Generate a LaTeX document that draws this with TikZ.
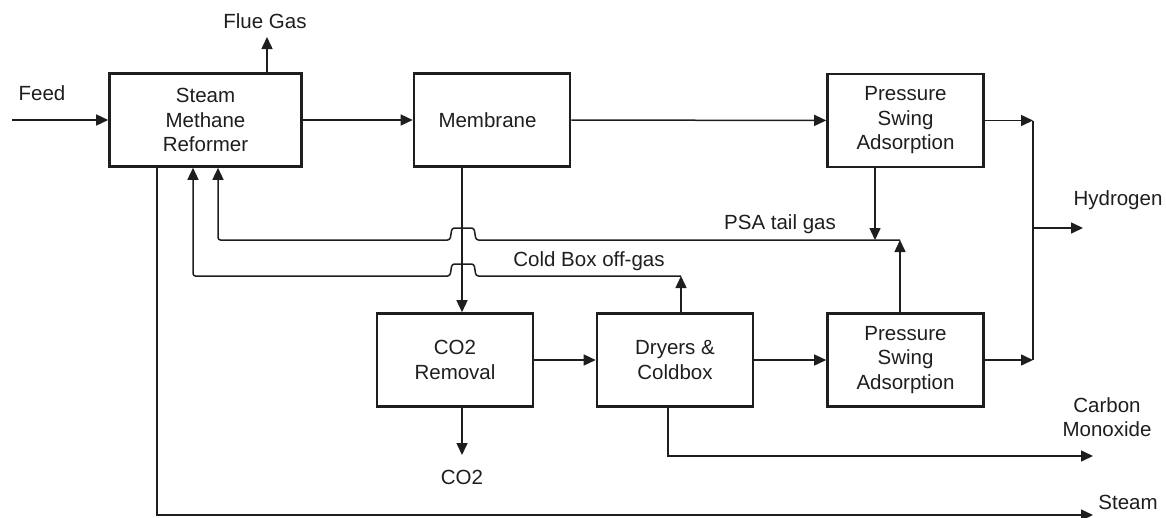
\documentclass[tikz,border=0pt]{standalone}
\usepackage{fontspec}
\setmainfont{Liberation Sans}
\usetikzlibrary{arrows.meta,positioning,calc}
\definecolor{lineink}{RGB}{30, 30, 30}

\begin{document}
\begin{tikzpicture}[x=1pt, y=-1pt,
    every node/.style={font=\fontsize{20.5}{24.5}\selectfont, text=lineink},
    unit/.style={draw=lineink, line width=2.6pt, minimum width=#1, minimum height=93pt, inner sep=0pt, align=center},
    unit/.default=156pt,
    flow/.style={draw=lineink, line width=1.5pt, -{Triangle[length=12pt,width=11pt]}},
    plain/.style={draw=lineink, line width=1.5pt}]
    \useasboundingbox (0,0) rectangle (1166,517);

    % Process Units
    \node[unit=192pt] (smr) at (205.5,120) {Steam\\Methane\\Reformer};
    \node[unit] (membrane) at (492,120) {Membrane\hspace{9pt}};
    \node[unit] (psaA) at (905.5,120.5) {Pressure\\Swing\\Adsorption};
    \node[unit] (co2rem) at (455,360) {CO2\\Removal};
    \node[unit] (dryers) at (675,360) {Dryers \&\\Coldbox};
    \node[unit] (psaB) at (905.5,360) {Pressure\\Swing\\Adsorption};

    % Stream Labels
    \node (feedlbl) at (42,93) {Feed};
    \node (fluelbl) at (265,21) {Flue Gas};
    \node (h2lbl) at (1118,200) {Hydrogen};
    \node (tailbl) at (780,224) {PSA tail gas};
    \node (coldlbl) at (589,261) {Cold Box off-gas};
    \node (co2lbl) at (462,477) {CO2};
    \node[align=center] (colbl) at (1107,417) {Carbon\\Monoxide};
    \node (steamlbl) at (1128,502) {Steam};

    % Helper Points
    \coordinate (feedin) at (12,120);
    \coordinate (flueout) at (267,37);
    \coordinate (hcol) at (1033,228);
    \coordinate (h2out) at (1083,228);
    \coordinate (dropx) at (462,0);
    \coordinate (co2out) at (462,455);
    \coordinate (cobend) at (668,456);
    \coordinate (coout) at (1093,456);
    \coordinate (stbend) at (157,515);
    \coordinate (stout) at (1093,515);
    \coordinate (tailjoin) at (875,240);
    \coordinate (tailend) at (900,240);
    \coordinate (tailbend) at (218,240);
    \coordinate (coldend) at (681,276);
    \coordinate (coldbend) at (193,276);

    % Main Train
    \draw[flow] (feedin) -- (smr.west);
    \draw[flow] (flueout |- smr.north) -- (flueout);
    \draw[flow] (smr) -- (membrane);
    \draw[flow] (membrane) -- (psaA);
    \draw[flow] (membrane.south -| dropx) -- (co2rem.north -| dropx);
    \draw[flow] (co2rem.south -| dropx) -- (co2out);
    \draw[flow] (co2rem) -- (dryers);
    \draw[flow] (dryers) -- (psaB);

    % Hydrogen Header
    \draw[flow] (psaA.east) -- (psaA.east -| hcol);
    \draw[flow] (psaB.east) -- (psaB.east -| hcol);
    \draw[plain] (psaA.east -| hcol) -- (psaB.east -| hcol);
    \draw[flow] (hcol) -- (h2out);

    % Products
    \draw[flow] (dryers.south -| cobend) -- (cobend) -- (coout);
    \draw[flow] (smr.south -| stbend) -- (stbend) -- (stout);

    % Recycle Gases
    \draw[flow] (psaA.south -| tailjoin) -- (tailjoin);
    \draw[flow] (psaB.north -| tailend) -- (tailend);
    \draw[flow, rounded corners=2.5pt] (tailend) -- (476,240) -- ++(-2,-12) -- ++(-22,0) -- ++(-2,12) -- (tailbend) -- (smr.south -| tailbend);
    \draw[flow] (dryers.north -| coldend) -- (coldend);
    \draw[flow, rounded corners=2.5pt] (coldend) -- (476,276) -- ++(-2,-12) -- ++(-22,0) -- ++(-2,12) -- (coldbend) -- (smr.south -| coldbend);
\end{tikzpicture}
\end{document}
